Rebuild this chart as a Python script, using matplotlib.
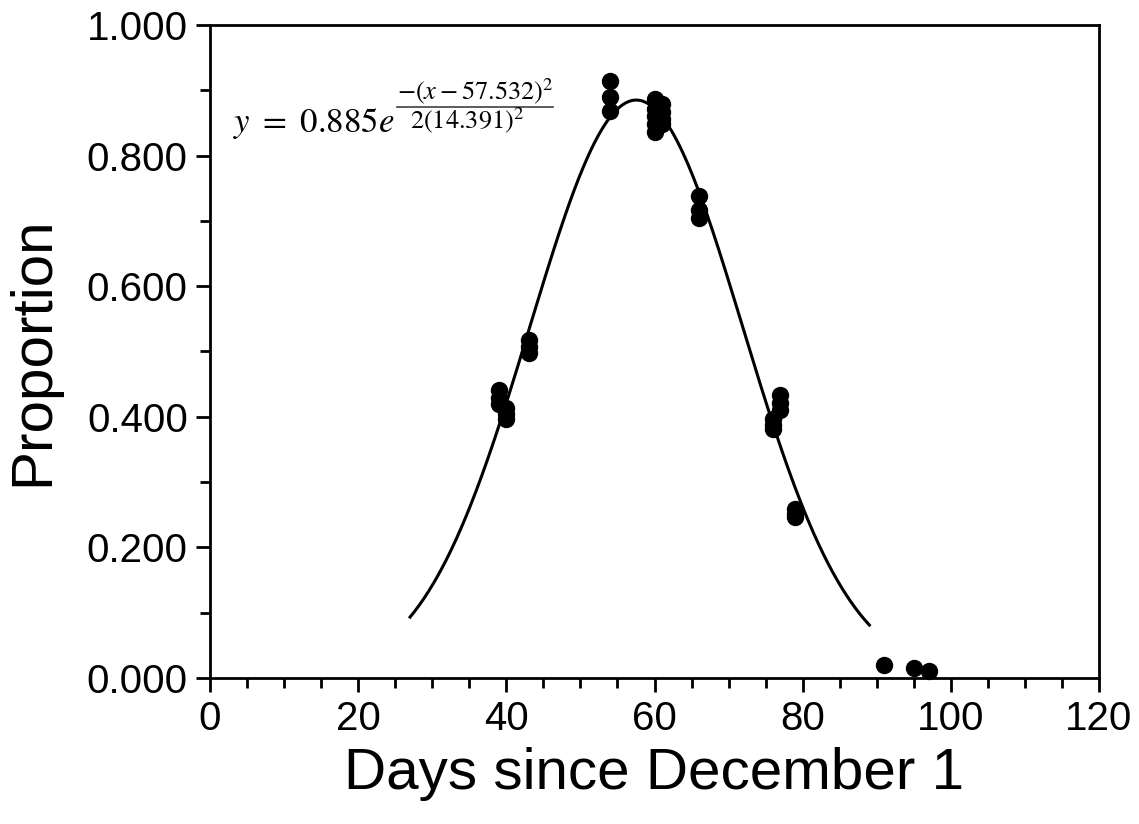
import numpy as np
import matplotlib
matplotlib.use("Agg")
import matplotlib.pyplot as plt
from matplotlib.lines import Line2D
from matplotlib.ticker import MultipleLocator, FormatStrFormatter

plt.rcParams['font.family'] = ['Liberation Sans', 'DejaVu Sans']
plt.rcParams['mathtext.fontset'] = 'stix'

# observed proportions
days = [39, 39, 39, 40, 40, 40, 43, 43, 43, 54, 54, 54,
        60, 60, 60, 60, 60, 61, 61, 61, 61, 66, 66, 66,
        76, 76, 76, 77, 77, 77, 79, 79, 79, 91, 95, 97]
prop = [0.441, 0.428, 0.419, 0.413, 0.404, 0.397, 0.517, 0.507, 0.497,
        0.914, 0.890, 0.868, 0.886, 0.872, 0.860, 0.848, 0.836,
        0.879, 0.867, 0.856, 0.848, 0.738, 0.716, 0.704,
        0.396, 0.388, 0.381, 0.433, 0.421, 0.411, 0.259, 0.251, 0.246,
        0.020, 0.015, 0.011]

# gaussian fit shown in the chart
amp = 0.885
mu = 57.532
sigma = 14.391
fit_start = 27
fit_end = 89

fig = plt.figure(figsize=(11.39, 8.24), dpi=100)
ax = fig.add_axes([0.1844, 0.1772, 0.7805, 0.7925])

xs = np.linspace(fit_start, fit_end, 300)
ax.plot(xs, amp * np.exp(-(xs - mu) ** 2 / (2 * sigma ** 2)), color='black', lw=2.2)
ax.plot(days, prop, 'o', color='black', ms=11.5, clip_on=False)

ax.set_xlim(0, 120)
ax.set_ylim(0, 1.0)
ax.xaxis.set_major_locator(MultipleLocator(20))
ax.xaxis.set_minor_locator(MultipleLocator(5))
ax.yaxis.set_major_locator(MultipleLocator(0.2))
ax.yaxis.set_minor_locator(MultipleLocator(0.1))
ax.yaxis.set_major_formatter(FormatStrFormatter('%.3f'))

ax.tick_params(which='major', direction='out', length=10, width=2, labelsize=29, pad=6)
ax.tick_params(which='minor', direction='out', length=7, width=2)
for s in ax.spines.values():
    s.set_linewidth(2)

ax.set_xlabel('Days since December 1', fontsize=42, labelpad=6)
ax.set_ylabel('Proportion', fontsize=42, labelpad=19)

# equation
W, H = 1139, 824
fig.text(233 / W, 1 - 132 / H, r'$y\ =\ 0.885e$', fontsize=25, ha='left', va='baseline')
fig.text(475 / W, 1 - 99 / H, r'$-(x-57.532)^2$', fontsize=19, ha='center', va='baseline')
fig.text(467 / W, 1 - 128 / H, r'$2(14.391)^2$', fontsize=19, ha='center', va='baseline')
fig.add_artist(Line2D([397 / W, 553 / W], [1 - 107 / H, 1 - 107 / H], color='#404040', lw=1.2,
                      transform=fig.transFigure))

fig.savefig('out.png', dpi=100)
